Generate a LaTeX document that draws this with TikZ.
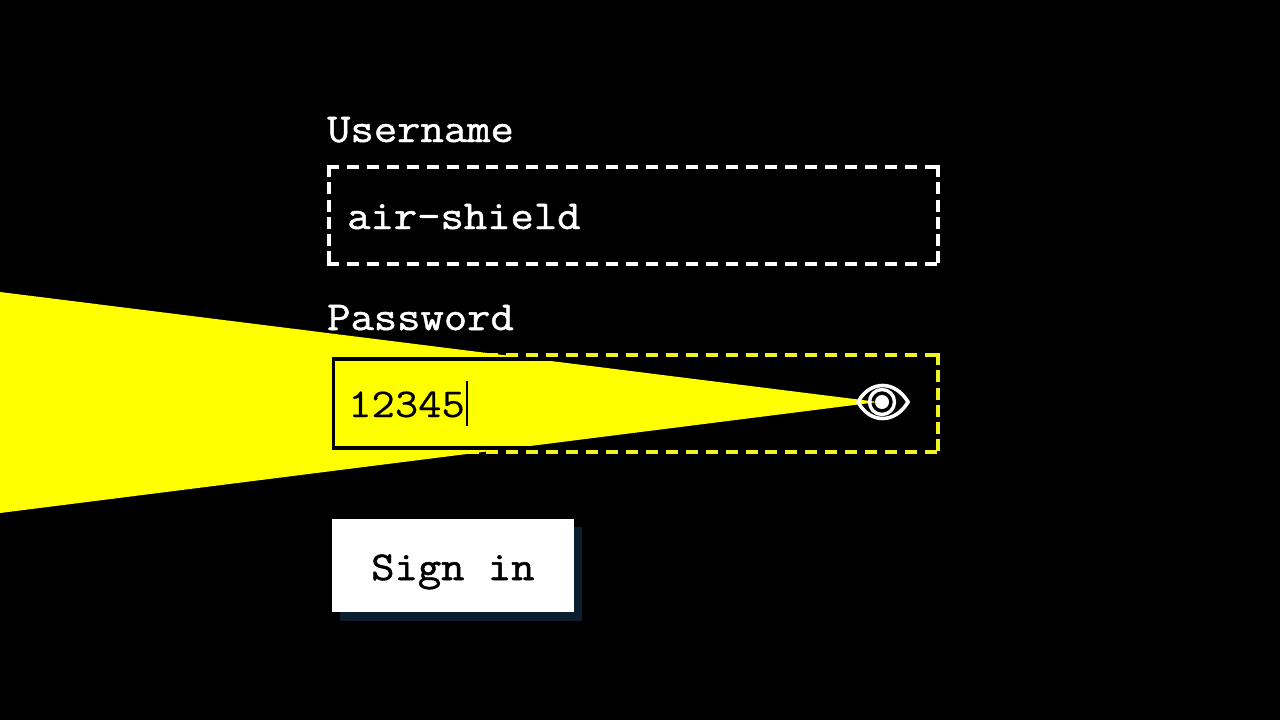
\documentclass[tikz,border=0pt]{standalone}
\usepackage{fontspec}
\newfontfamily\formfont[FakeBold=1.2,FakeStretch=1.105]{Latin Modern Mono}
\newfontfamily\typedfont[FakeBold=0.3,FakeStretch=1.105]{Latin Modern Mono}
\definecolor{beam}{HTML}{FFFF00}
\definecolor{dashy}{HTML}{F2F229}
\definecolor{shadowblue}{HTML}{0B1E30}
\tikzset{
  x=1pt,y=-1pt,
  whitetext/.style={text=white,inner sep=0pt,anchor=base west,font=\formfont\fontsize{41}{41}\selectfont},
  darktext/.style={text=black,inner sep=0pt,anchor=base west,font=\typedfont\fontsize{41}{41}\selectfont},
  hdash/.style={line width=4pt,dash pattern=on 12pt off 7.93pt},
  vdash/.style={line width=4pt,dash pattern=on 12pt off 5.25pt}
}
\begin{document}
\begin{tikzpicture}
\useasboundingbox (0,0) rectangle (1280,720);
\fill[black] (0,0) rectangle (1280,720);
% username field
\draw[white,hdash] (327,167) -- (940,167);
\draw[white,hdash] (327,264) -- (940,264);
\draw[white,vdash] (329,165) -- (329,266);
\draw[white,vdash] (938,165) -- (938,266);
% password field
\draw[dashy,hdash] (327,355) -- (940,355);
\draw[dashy,hdash] (327,452) -- (940,452);
\draw[dashy,vdash] (329,353) -- (329,454);
\draw[dashy,vdash] (938,353) -- (938,454);
% beam
\fill[beam] (0,292) -- (878,402) -- (0,513) -- cycle;
\draw[black,line width=3.5pt] (620,359) -- (333.5,359) -- (333.5,448) -- (620,448);
% labels
\node[whitetext] (username) at (327,142) {Username};
\node[whitetext] (value) at (347,229) {air-shield};
\node[whitetext] (password) at (327,330) {Password};
\node[darktext] (typed) at (348,417) {12345};
\draw[black,line width=1.6pt] (467,381) -- (467,426);
% button
\fill[shadowblue] (340,527) rectangle (582,621);
\fill[white] (332,519) rectangle (574,612);
\node[whitetext,text=black] (signin) at (371,580) {Sign in};
% eye
\draw[white,line width=3.6pt,line join=miter] (858,402) .. controls (870,380) and (895,380) .. (908,402) .. controls (895,424) and (870,424) .. cycle;
\draw[white,line width=3.4pt] (882,402) circle (12.5);
\fill[white] (882,402) circle (7);
\end{tikzpicture}
\end{document}
